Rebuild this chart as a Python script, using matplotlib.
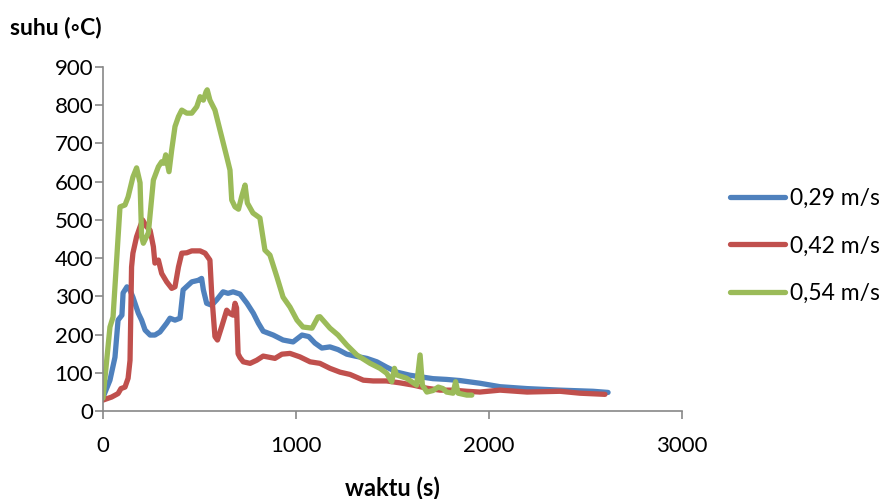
import matplotlib.pyplot as plt

plt.rcParams['font.family'] = ['Lato', 'DejaVu Sans']

# 0,29 m/s
t1 = [0, 36, 62, 78, 98, 104, 124, 140, 155, 183, 200, 218, 244, 269, 295, 330, 347,
      373, 399, 415, 432, 460, 493, 511, 520, 537, 563, 589, 622, 648, 674, 710, 746,
      779, 805, 830, 882, 933, 985, 1031, 1066, 1098, 1134, 1176, 1218, 1263, 1306,
      1367, 1419, 1470, 1523, 1590, 1643, 1710, 1780, 1850, 1953, 2057, 2197, 2368,
      2539, 2617]
v1 = [36, 81, 141, 238, 251, 309, 325, 316, 298, 256, 238, 212, 199, 199, 207, 230, 243,
      238, 243, 317, 325, 338, 342, 347, 317, 282, 277, 291, 312, 308, 312, 306, 282,
      256, 230, 209, 199, 186, 181, 199, 195, 178, 165, 168, 161, 149, 144,
      138, 129, 115, 102, 94, 90, 85, 83, 80, 73, 64, 59, 55,
      52, 49]

# 0,42 m/s
t2 = [0, 45, 78, 93, 114, 130, 140, 148, 155, 174, 192, 205, 226, 244, 261, 269, 287,
      304, 330, 356, 373, 391, 408, 434, 460, 503, 529, 554, 563, 580, 593, 615, 641,
      658, 674, 684, 692, 700, 710, 727, 762, 796, 830, 891, 927, 969, 1020, 1073,
      1124, 1176, 1228, 1280, 1349, 1400, 1470, 1539, 1608, 1678, 1746, 1814, 1885,
      1953, 2057, 2197, 2368, 2471, 2601]
v2 = [29, 37, 46, 59, 63, 86, 133, 377, 413, 456, 482, 500, 482, 473, 430, 387, 395,
      360, 338, 321, 325, 377, 413, 414, 419, 419, 413, 395, 308, 195, 186, 221, 264,
      255, 251, 282, 270, 150, 140, 129, 125, 133, 144, 138, 149, 151, 142, 129,
      125, 112, 102, 96, 81, 79, 79, 74, 68, 60, 55, 55, 52,
      50, 55, 50, 52, 47, 44]

# 0,54 m/s
t3 = [0, 36, 52, 88, 114, 130, 155, 174, 192, 200, 209, 235, 261, 287, 304, 315, 325,
      342, 356, 373, 391, 408, 434, 460, 486, 503, 520, 534, 540, 554, 580, 606, 641,
      658, 667, 684, 702, 718, 736, 748, 777, 813, 839, 865, 901, 933, 969, 1005,
      1036, 1083, 1114, 1124, 1176, 1218, 1263, 1315, 1384, 1435, 1470, 1496, 1510,
      1520, 1573, 1625, 1643, 1655, 1678, 1710, 1737, 1762, 1780, 1814, 1827, 1840,
      1885, 1911]
v3 = [34, 220, 246, 534, 539, 560, 612, 636, 597, 456, 439, 466, 604, 639, 652, 648, 670,
      626, 683, 744, 770, 787, 779, 779, 796, 822, 813, 835, 840, 813, 787, 735, 665,
      630, 552, 534, 528, 560, 591, 544, 518, 505, 421, 408, 351, 298, 272, 238,
      220, 217, 246, 247, 217, 199, 173, 147, 125, 112, 99, 77, 112,
      95, 86, 68, 147, 68, 50, 54, 63, 59, 50, 47, 77, 47,
      42, 42]

series = [('0,29 m/s', t1, v1, '#4F81BD'),
          ('0,42 m/s', t2, v2, '#C0504D'),
          ('0,54 m/s', t3, v3, '#9BBB59')]

fig = plt.figure(figsize=(8.88, 4.99), dpi=100)
ax = fig.add_axes([0.116, 0.176, 0.652, 0.690])

for name, t, v, c in series:
    ax.plot(t, v, color=c, lw=3.8, label=name, solid_capstyle='round', solid_joinstyle='round')

ax.set_xlim(0, 3000)
ax.set_ylim(0, 900)
ax.set_xticks([0, 1000, 2000, 3000])
ax.set_yticks(range(0, 901, 100))
for s in ['top', 'right']:
    ax.spines[s].set_visible(False)
for s in ['left', 'bottom']:
    ax.spines[s].set_color('#888888')
    ax.spines[s].set_linewidth(1.2)
ax.tick_params(colors='#888888', labelcolor='black', labelsize=16, length=6, width=1.2)
ax.tick_params(axis='y', pad=1)
ax.tick_params(axis='x', pad=12)

fig.text(0.011, 0.945, 'suhu (\u25e6C)', fontsize=16.5, fontweight='bold', ha='left', va='center')
fig.text(0.442, 0.022, 'waktu (s)', fontsize=17, fontweight='bold', ha='center', va='center')

ax.legend(loc='center left', bbox_to_anchor=(1.083, 0.48), frameon=False, fontsize=16.5,
          handlelength=2.4, handletextpad=0.2, labelspacing=1.15,
          borderaxespad=0, borderpad=0)

fig.savefig('out.png', dpi=100)
